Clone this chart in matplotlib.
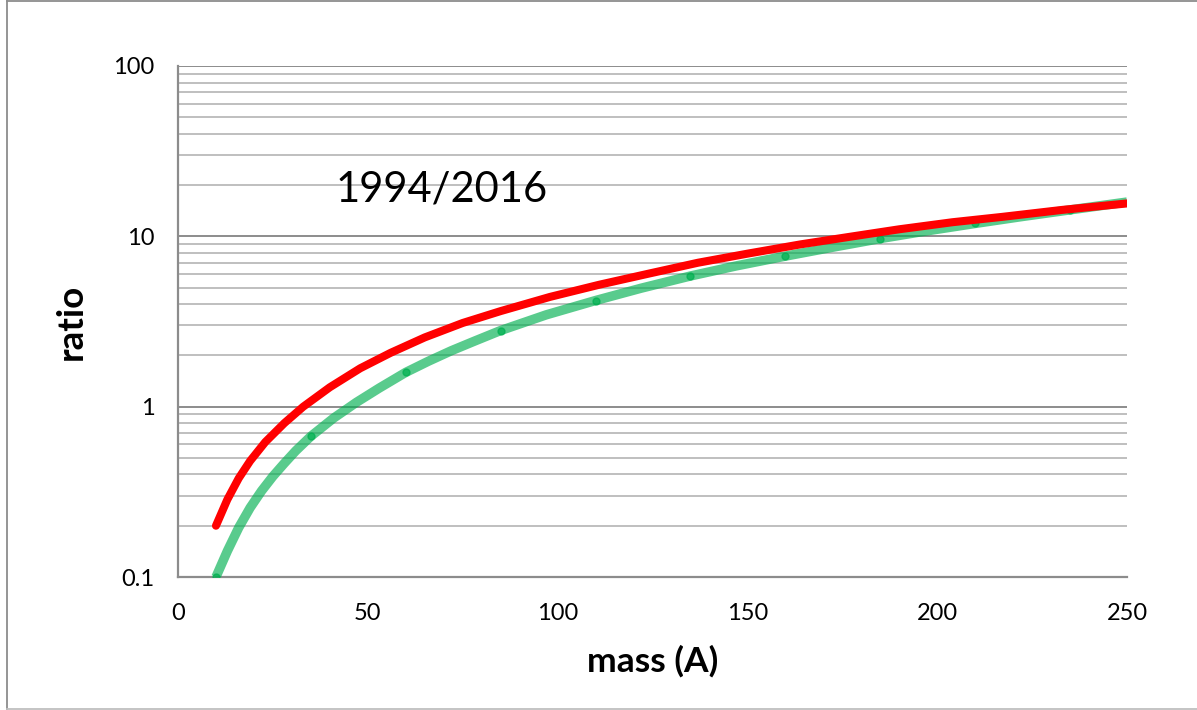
import numpy as np
import matplotlib
matplotlib.use("Agg")
import matplotlib.pyplot as plt
from matplotlib.lines import Line2D

plt.rcParams["font.family"] = ["Lato", "DejaVu Sans"]

# values
green_x = [10, 13, 16, 19, 22, 25, 28, 31, 35, 41, 47, 53, 60, 66, 72, 78, 85, 97,
           110, 122, 135, 147, 160, 172, 185, 197, 210, 222, 235, 250]
green_y = [0.1, 0.142, 0.195, 0.255, 0.32, 0.39, 0.465, 0.55, 0.67, 0.857, 1.06, 1.285,
           1.59, 1.85, 2.13, 2.42, 2.8, 3.46, 4.2, 4.96, 5.85, 6.7, 7.65, 8.59, 9.7,
           10.74, 11.9, 13.03, 14.3, 15.9]
green_marks = [10, 35, 60, 85, 110, 135, 160, 185, 210, 235]

red_x = [10, 13, 16, 19, 23, 28, 33, 40, 48, 56, 65, 75, 85, 98, 111, 124, 137, 150,
         164, 177, 190, 204, 217, 233, 250]
red_y = [0.2, 0.285, 0.38, 0.48, 0.62, 0.80, 1.0, 1.30, 1.68, 2.07, 2.55, 3.1, 3.64,
         4.41, 5.2, 6.04, 7.0, 7.91, 8.97, 9.94, 11.0, 12.1, 13.0, 14.3, 15.6]

x_ticks = [0, 50, 100, 150, 200, 250]
y_ticks = [0.1, 1, 10, 100]
y_tick_labels = ["0.1", "1", "10", "100"]


def make_plot():
    fig = plt.figure(figsize=(11.97, 7.10), dpi=100)
    ax = fig.add_axes([178 / 1197, 133 / 710, 949 / 1197, 511 / 710])

    ax.set_yscale("log")
    ax.set_xlim(0, 250)
    ax.set_ylim(0.1, 100)

    # gridlines, Excel style
    for dec in [0.1, 1, 10]:
        for k in range(2, 10):
            ax.axhline(dec * k, color="#BFBFBF", lw=1.4, zorder=1)
    for v in [1, 10, 100]:
        ax.axhline(v, color="#8C8C8C", lw=1.4, zorder=1)

    mark_idx = [i for i, v in enumerate(green_x) if v in green_marks]
    ax.plot(green_x, green_y, color="#00B050", alpha=0.65, lw=6.8,
            solid_capstyle="butt", solid_joinstyle="round", zorder=3)
    ax.plot([green_x[i] for i in mark_idx], [green_y[i] for i in mark_idx],
            ls="none", marker="o", ms=5, color="#00B050", alpha=0.7, zorder=3)
    ax.plot(red_x, red_y, color="#FF0000", lw=5.8, solid_capstyle="round",
            solid_joinstyle="round", zorder=4)

    for s in ["top", "right"]:
        ax.spines[s].set_visible(False)
    for s in ["left", "bottom"]:
        ax.spines[s].set_color("#8C8C8C")
        ax.spines[s].set_linewidth(1.6)

    ax.set_xticks(x_ticks)
    ax.set_xticklabels([str(v) for v in x_ticks])
    ax.set_yticks(y_ticks)
    ax.set_yticklabels(y_tick_labels)
    ax.yaxis.set_minor_locator(matplotlib.ticker.NullLocator())
    ax.tick_params(axis="both", length=0, labelsize=17, colors="black")
    ax.tick_params(axis="x", pad=18.5)
    ax.tick_params(axis="y", pad=17)

    ax.set_xlabel("mass (A)", fontsize=25.5, fontweight="bold", labelpad=15)
    ax.set_ylabel("ratio", fontsize=26.5, fontweight="bold", labelpad=18)

    ax.text(69.5, 18.9, "1994/2016", fontsize=30, ha="center", va="center", zorder=5)

    # chart area border (left, top, bottom)
    bc = "#8C8C8C"
    fig.add_artist(Line2D([6.5 / 1197, 6.5 / 1197], [0.002, 0.999], transform=fig.transFigure, color=bc, lw=1.3))
    fig.add_artist(Line2D([6.5 / 1197, 1], [0.999, 0.999], transform=fig.transFigure, color=bc, lw=1.3))
    fig.add_artist(Line2D([6.5 / 1197, 1], [0.002, 0.002], transform=fig.transFigure, color="#BFBFBF", lw=1.3))

    fig.savefig("out.png", dpi=100)


if __name__ == "__main__":
    make_plot()
